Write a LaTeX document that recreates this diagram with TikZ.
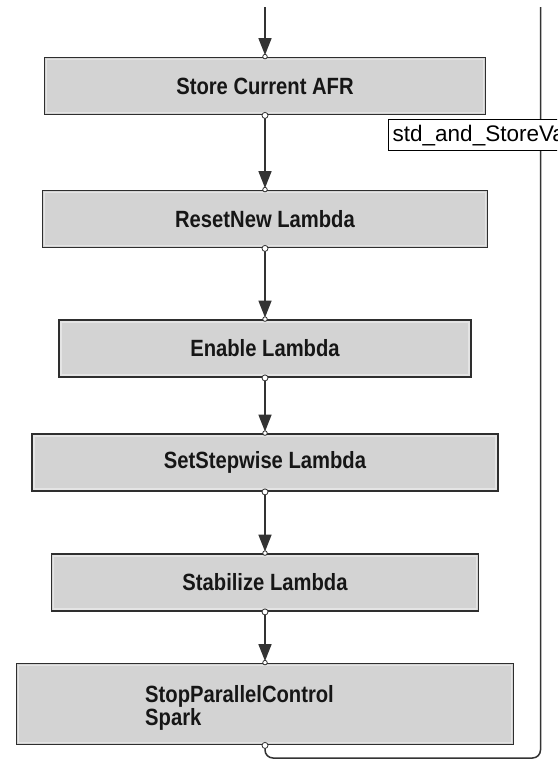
\documentclass[tikz,border=0pt]{standalone}
\usepackage{fontspec}
\usepackage{graphicx}
\setmainfont{Liberation Sans}
\usetikzlibrary{arrows.meta}
\definecolor{boxfill}{HTML}{D3D3D3}
\definecolor{boxhl}{HTML}{E4E4E4}
\definecolor{boxline}{HTML}{2E2E2E}
\definecolor{connline}{HTML}{333333}
\definecolor{txt}{HTML}{161616}
\newcommand{\narrowtxt}[1]{\scalebox{0.86}[1]{#1}}
\tikzset{
  stepbox/.style={draw=boxline, line width=1.8pt, fill=boxfill, minimum height=57pt,
    inner sep=0pt, text=txt, font=\bfseries\fontsize{23.5}{18}\selectfont},
  boxtext/.style={inner sep=0pt, text=txt, font=\bfseries\fontsize{23.5}{16.5}\selectfont},
  innerhl/.style={draw=boxhl, line width=1.4pt},
  conn/.style={draw=connline, line width=1.5pt},
  flowarrow/.style={conn, -{Triangle[length=17pt, width=13pt, fill=connline]}, shorten >=1.5pt},
  port/.style={circle, draw=connline, fill=white, line width=0.8pt, inner sep=0pt, minimum size=6pt},
  lblbox/.style={draw=black, line width=1.4pt, fill=white, minimum height=31pt,
    text width=200pt, align=left, inner xsep=4pt, inner ysep=0pt,
    font=\fontsize{22.5}{24}\selectfont, text=black}
}
\begin{document}
\begin{tikzpicture}[x=1pt,y=-1pt]
\useasboundingbox[fill=white] (0,0) rectangle (557,763);
\clip (0,0) rectangle (557,763);

% boxes
\node[stepbox, minimum width=441pt] (b1) at (265,86) {\narrowtxt{Store Current AFR}};
\node[stepbox, minimum width=445pt] (b2) at (265,219) {\narrowtxt{ResetNew Lambda}};
\node[stepbox, minimum width=412pt] (b3) at (265,348.5) {\narrowtxt{Enable Lambda}};
\node[stepbox, minimum width=466pt] (b4) at (265,462.5) {\narrowtxt{SetStepwise Lambda}};
\node[stepbox, minimum width=427pt] (b5) at (265,582.5) {\narrowtxt{Stabilize Lambda}};
\node[stepbox, minimum width=497pt, minimum height=81pt] (b6) at (265,704) {};
\node[boxtext, anchor=west, align=left] (b6t) at (145,708) {\narrowtxt{StopParallelControl}\\\narrowtxt{Spark}};

% inner highlights
\foreach \b in {b1,b2,b3,b4,b5,b6}{
  \draw[innerhl] ([shift={(3pt,-3pt)}]\b.north west) rectangle ([shift={(-3pt,3pt)}]\b.south east);
}

% connectors
\coordinate (topL) at (265,7);
\coordinate (topR) at (540.5,7);
\coordinate (botY) at (0,758);
\draw[flowarrow] (topL) -- (b1.north);
\draw[flowarrow] (b1.south) -- (b1.south |- b2.north);
\draw[flowarrow] (b2.south) -- (b2.south |- b3.north);
\draw[flowarrow] (b3.south) -- (b3.south |- b4.north);
\draw[flowarrow] (b4.south) -- (b4.south |- b5.north);
\draw[flowarrow] (b5.south) -- (b5.south |- b6.north);
\draw[conn, rounded corners=8pt] (b6.south) -- (b6.south |- botY) -- (topR |- botY) -- (topR);

% ports
\foreach \b in {b1,b2,b3,b4,b5,b6}{
  \node[port] at (\b.south) {};
}
\foreach \b in {b1,b2,b3,b4,b5,b6}{
  \node[port, minimum size=4.5pt] at (\b.north) {};
}

% label
\node[lblbox, anchor=north west] (lbl) at (388,119) {std\_and\_StoreVa};
\end{tikzpicture}
\end{document}
